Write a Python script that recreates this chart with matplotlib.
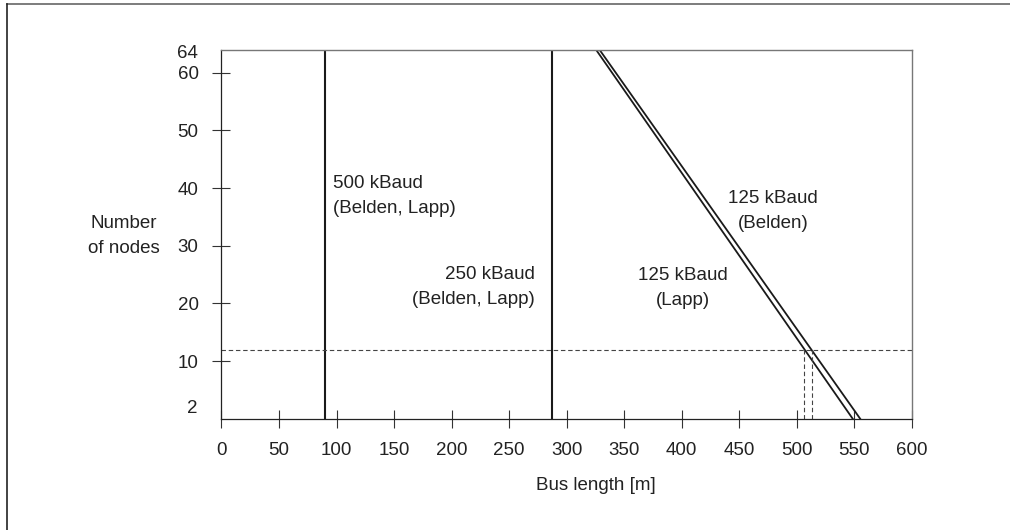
import matplotlib
matplotlib.use("Agg")
import matplotlib.pyplot as plt
from matplotlib.lines import Line2D

plt.rcParams['font.family'] = ['Liberation Sans', 'DejaVu Sans']

# bus length limits for each baud rate (m)
vert_rates = ["500 kBaud\n(Belden, Lapp)", "250 kBaud\n(Belden, Lapp)"]
vert_x = [90, 287]

# 125 kBaud sloped limits: (length at 64 nodes, length at 0 nodes)
lapp_x = [325.5, 548.5]
belden_x = [328.5, 555]
slope_nodes = [64, 0]

# marked case: 12 nodes
mark_nodes = 12
mark_len = [506.5, 513.5]

xticks = [0, 50, 100, 150, 200, 250, 300, 350, 400, 450, 500, 550, 600]
yticks = [10, 20, 30, 40, 50, 60]
extra_ylabels = [2, 64]
extra_ypos = [1.8, 63.4]

fig = plt.figure(figsize=(10.1, 5.3), dpi=100)
ax = fig.add_axes([0.2193, 0.21, 0.6836, 0.6962])

fs = 13.5
tc = '#222222'

for x in vert_x:
    ax.plot([x, x], [0, 64], color='#1a1a1a', lw=1.5)
ax.plot(lapp_x, slope_nodes, color='#1a1a1a', lw=1.3)
ax.plot(belden_x, slope_nodes, color='#1a1a1a', lw=1.3)

ax.plot([0, 600], [mark_nodes, mark_nodes], color='#444444', lw=0.8, ls=(0, (4, 2.5)))
for x in mark_len:
    ax.plot([x, x], [0, mark_nodes], color='#444444', lw=0.8, ls=(0, (4, 2.5)))

ax.set_xlim(0, 600)
ax.set_ylim(0, 64)
ax.set_xticks(xticks)
ax.set_yticks(yticks)
ax.tick_params(direction='inout', length=13, width=0.8, color='#333333',
               labelsize=fs, pad=10, labelcolor=tc)
for side in ['left', 'bottom']:
    ax.spines[side].set_color('#222222')
    ax.spines[side].set_linewidth(0.9)
for side in ['top', 'right']:
    ax.spines[side].set_color('#777777')
    ax.spines[side].set_linewidth(1.0)

for v, pos in zip(extra_ylabels, extra_ypos):
    ax.annotate(str(v), xy=(0, pos), xycoords=('axes fraction', 'data'),
                xytext=(-24, 0), textcoords='offset pixels',
                ha='right', va='center', fontsize=fs, color=tc)

# annotations
ax.text(97, 38.6, vert_rates[0], ha='left', va='center',
        fontsize=fs, color=tc, linespacing=1.65)
ax.text(272.5, 22.8, vert_rates[1], ha='right', va='center', multialignment='right',
        fontsize=fs, color=tc, linespacing=1.6)
ax.text(479.3, 36.0, "125 kBaud\n(Belden)", ha='center', va='center',
        fontsize=fs, color=tc, linespacing=1.6)
ax.text(401, 22.7, "125 kBaud\n(Lapp)", ha='center', va='center',
        fontsize=fs, color=tc, linespacing=1.65)

fig.text(160 / 1010, 1 - 236 / 530, "Number\nof nodes", ha='right', va='center',
         multialignment='center', fontsize=fs, color=tc, linespacing=1.6)
fig.text(536 / 1010, 1 - 485 / 530, "Bus length [m]", ha='left', va='center',
         fontsize=fs, color=tc)

# page frame (top and left edges)
fig.add_artist(Line2D([7 / 1010, 1], [1 - 4 / 530, 1 - 4 / 530], color='#666666', lw=1.2))
fig.add_artist(Line2D([7 / 1010, 7 / 1010], [0, 1 - 4 / 530], color='#222222', lw=1.2))

fig.savefig("out.png", dpi=100)
